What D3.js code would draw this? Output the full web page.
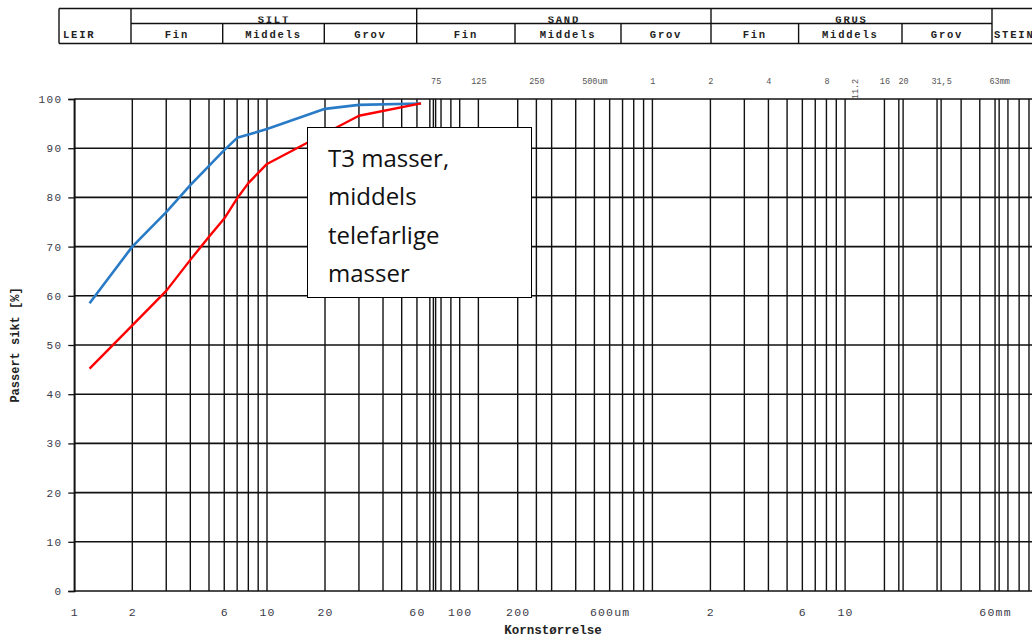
<!DOCTYPE html>
<html><head><meta charset="utf-8">
<script src="https://cdn.jsdelivr.net/npm/d3@7"></script>
<style>
html,body{margin:0;padding:0;background:#fff;}
svg{display:block;}
</style></head>
<body>
<svg id="c" width="1032" height="637"></svg>
<script>
// ---------- data ----------
const blueSizes = [1.2, 2, 3, 4, 5, 6, 7, 10, 20, 30, 63];           // µm
const blueValues = [58.5, 70, 77, 82.5, 86.4, 89.6, 92.1, 93.9, 98, 98.8, 99.1];
const redSizes = [1.2, 2, 3, 4, 5, 6, 7, 8, 10, 16, 20, 30, 63];     // µm
const redValues = [45.2, 54, 61, 67.3, 72, 75.7, 79.8, 82.9, 86.8, 91, 93, 96.6, 99.1];

const gridSizes = [1,2,3,4,5,6,7,8,9,10,20,30,40,50,60,70,73,75,80,90,100,125,200,250,300,400,500,600,700,800,900,
  1000,2000,3000,4000,5000,6000,7000,8000,9000,10000,16000,19000,20000,30000,31500,40000,50000,60000,63000,70000,80000,90000];
const bottomTickValues = [1,2,6,10,20,60,100,200,600,2000,6000,10000,60000];
const bottomTickLabels = ["1","2","6","10","20","60","100","200","600um","2","6","10","60mm"];
const topTickValues = [75,125,250,500,1000,2000,4000,8000,11200,16000,20000,31500,63000];
const topTickLabels = ["75","125","250","500um","1","2","4","8","11.2","16","20","31,5","63mm"];
const yTicks = [0,10,20,30,40,50,60,70,80,90,100];

const headerGroups = ["SILT","SAND","GRUS"];
const headerSubs = ["Fin","Middels","Grov"];
const legendLines = ["T3 masser,","middels","telefarlige","masser"];

// ---------- layout ----------
const svg = d3.select("#c");
const plotLeft = 74.3, decade = 192.7, plotTop = 99, plotBottom = 591;
const x = d3.scaleLog().domain([1, 100000]).range([plotLeft, plotLeft + decade * 5]);
const y = d3.scaleLinear().domain([0, 100]).range([plotBottom, plotTop]);
const mono = "'Liberation Mono','Courier New',monospace";

// grid
const g = svg.append("g");
g.selectAll("line.v").data(gridSizes).enter().append("line")
  .attr("x1", d => x(d)).attr("x2", d => x(d)).attr("y1", plotTop).attr("y2", plotBottom)
  .attr("stroke", "#111").attr("stroke-width", 1.4);
g.selectAll("line.h").data(yTicks).enter().append("line")
  .attr("x1", plotLeft).attr("x2", 1040).attr("y1", d => y(d)).attr("y2", d => y(d))
  .attr("stroke", "#111").attr("stroke-width", 1.6);

// y axis ticks + labels
const yAxis = d3.axisLeft(y).tickValues(yTicks).tickSize(6).tickPadding(6);
const ya = svg.append("g").attr("transform", `translate(${plotLeft},0)`).call(yAxis);
ya.select(".domain").attr("stroke", "#111").attr("stroke-width", 1.6);
ya.selectAll(".tick line").attr("stroke", "#111").attr("stroke-width", 1.3);
ya.selectAll(".tick text").attr("font-family", mono).attr("font-size", 11)
  .attr("letter-spacing", "1.3px").attr("fill", "#3a3a48");

// bottom labels
const xb = d3.axisBottom(x).tickValues(bottomTickValues).tickSize(0).tickPadding(0)
  .tickFormat((d, i) => bottomTickLabels[i]);
const xba = svg.append("g").attr("transform", `translate(0,${plotBottom})`).call(xb);
xba.select(".domain").remove();
xba.selectAll(".tick text").attr("font-family", mono).attr("font-size", 11.5)
  .attr("letter-spacing", "1.2px").attr("fill", "#3a3a48").attr("dy", 0).attr("y", 25);

// top labels
const xt = d3.axisTop(x).tickValues(topTickValues).tickSize(0).tickPadding(0)
  .tickFormat((d, i) => topTickLabels[i]);
const xta = svg.append("g").attr("transform", `translate(0,${plotTop})`).call(xt);
xta.select(".domain").remove();
xta.selectAll(".tick text").attr("font-family", mono).attr("font-size", 8.5)
  .attr("fill", "#555").attr("y", -15);
xta.selectAll(".tick").filter(d => d === 11200).select("text")
  .attr("transform", "rotate(-90)").attr("x", 10).attr("y", 0).attr("dy", "0.32em")
  .attr("text-anchor", "middle");

// axis titles
svg.append("text").attr("x", 553).attr("y", 634).attr("text-anchor", "middle")
  .attr("font-family", mono).attr("font-weight", "bold").attr("font-size", 12.5)
  .attr("fill", "#222").text("Kornstørrelse");
svg.append("text").attr("transform", "translate(19,345) rotate(-90)").attr("text-anchor", "middle")
  .attr("font-family", mono).attr("font-weight", "bold").attr("font-size", 12)
  .attr("fill", "#222").text("Passert sikt [%]");

// curves
const line = d3.line().x(d => x(d[0])).y(d => y(d[1]));
svg.append("path").datum(d3.zip(blueSizes, blueValues)).attr("d", line)
  .attr("fill", "none").attr("stroke", "#2a7bc6").attr("stroke-width", 2.6).attr("stroke-linejoin", "round");
svg.append("path").datum(d3.zip(redSizes, redValues)).attr("d", line)
  .attr("fill", "none").attr("stroke", "#ff0000").attr("stroke-width", 2.4).attr("stroke-linejoin", "round");

// legend / annotation box
const lg = svg.append("g");
lg.append("rect").attr("x", 307.5).attr("y", 127.5).attr("width", 224).attr("height", 170)
  .attr("fill", "#fff").attr("stroke", "#000").attr("stroke-width", 1);
lg.selectAll("text").data(legendLines).enter().append("text")
  .attr("x", 328).attr("y", (d, i) => 167 + i * 38.3)
  .attr("font-family", "'Open Sans', Lato, sans-serif").attr("font-size", 24).attr("fill", "#111")
  .text(d => d);

// header table
const hb = [59, 131, 222.7, 324.3, 416.7, 515, 621, 711, 798.6, 902, 992];
const hTop = 8.5, hMid = 23.5, hBot = 43.5;
svg.append("defs").append("clipPath").attr("id", "hclip")
  .append("rect").attr("x", 0).attr("y", 16.5).attr("width", 1032).attr("height", 40);
const ht = svg.append("g").attr("stroke", "#111").attr("stroke-width", 1.4);
ht.append("line").attr("x1", hb[0]).attr("x2", 1040).attr("y1", hTop).attr("y2", hTop);
ht.append("line").attr("x1", hb[0]).attr("x2", 1040).attr("y1", hBot).attr("y2", hBot);
ht.append("line").attr("x1", hb[1]).attr("x2", hb[10]).attr("y1", hMid).attr("y2", hMid);
[0, 1, 4, 7, 10].forEach(i => ht.append("line").attr("x1", hb[i]).attr("x2", hb[i]).attr("y1", hTop).attr("y2", hBot));
[2, 3, 5, 6, 8, 9].forEach(i => ht.append("line").attr("x1", hb[i]).attr("x2", hb[i]).attr("y1", hMid).attr("y2", hBot));
const htxt = svg.append("g").attr("font-family", mono).attr("font-size", 10.5).attr("fill", "#222")
  .attr("font-weight", "bold").attr("letter-spacing", "1.8px");
headerGroups.forEach((name, gi) => {
  const a = hb[1 + gi * 3], b = hb[4 + gi * 3];
  htxt.append("text").attr("x", (a + b) / 2).attr("y", 23).attr("text-anchor", "middle")
    .attr("clip-path", "url(#hclip)").text(name);
  headerSubs.forEach((s, si) => {
    const c = hb[1 + gi * 3 + si], e = hb[2 + gi * 3 + si];
    htxt.append("text").attr("x", (c + e) / 2).attr("y", 37.5).attr("text-anchor", "middle").text(s);
  });
});
htxt.append("text").attr("x", 63).attr("y", 37.5).text("LEIR");
htxt.append("text").attr("x", 994).attr("y", 37.5).text("STEIN");
</script>
</body></html>
